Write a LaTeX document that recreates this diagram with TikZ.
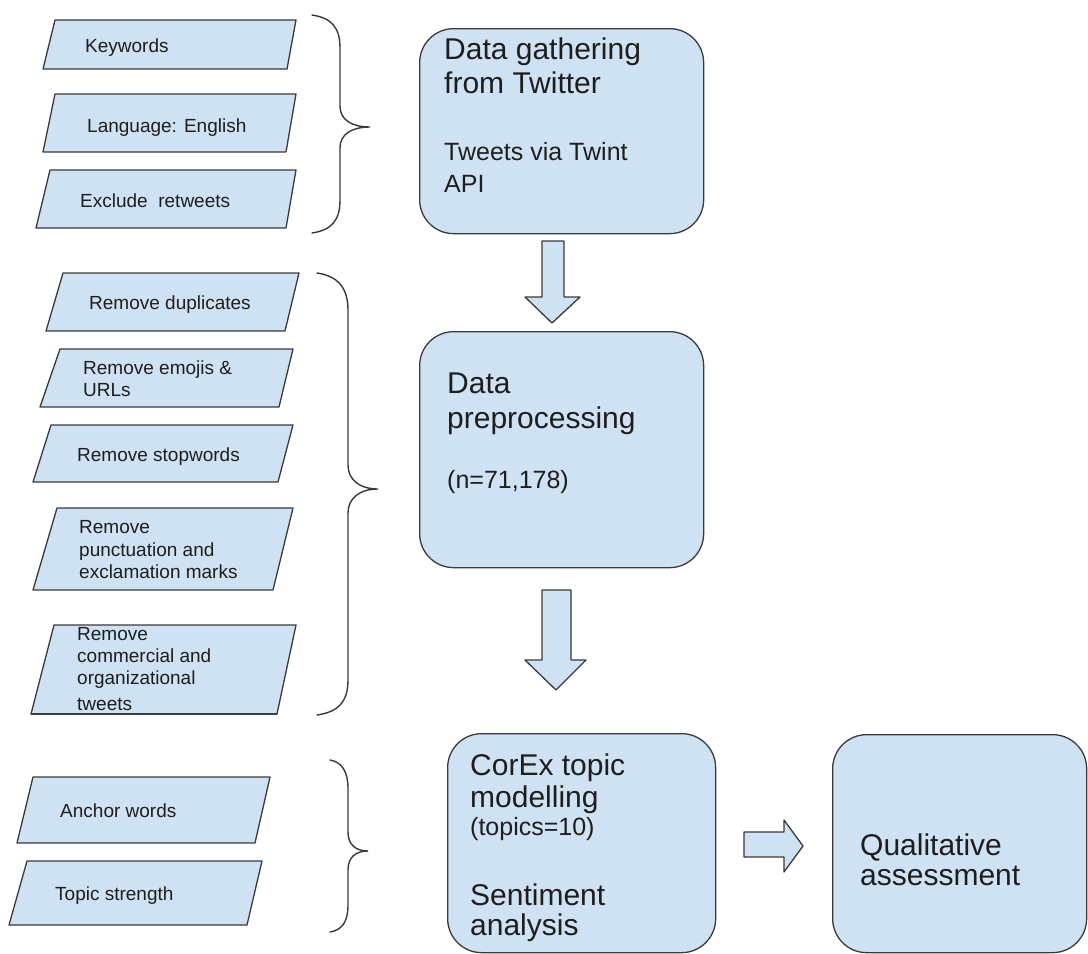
\documentclass[tikz,border=0pt]{standalone}
\usepackage{fontspec}
\setmainfont{Liberation Sans}
\definecolor{boxfill}{HTML}{CFE2F3}
\definecolor{boxline}{HTML}{3A3A3A}
\definecolor{txt}{HTML}{1E1E1E}
\tikzset{
  shapeline/.style={draw=boxline, fill=boxfill, line width=1.3pt, line join=round},
  braceline/.style={draw=boxline, line width=1.4pt, line cap=round},
  small/.style={anchor=base west, inner sep=0pt, text=txt, font=\fontsize{19}{22}\selectfont},
  big/.style={anchor=base west, inner sep=0pt, text=txt, font=\fontsize{30}{34}\selectfont},
  mid/.style={anchor=base west, inner sep=0pt, text=txt, font=\fontsize{25}{30}\selectfont},
  rbox/.style={shapeline, rounded corners=34pt}
}
\begin{document}
\begin{tikzpicture}[x=1pt,y=-1pt]
\useasboundingbox (0,0) rectangle (1088,954);
\fill[white] (0,0) rectangle (1088,954);

% parallelograms
\path[shapeline] (55,20) -- (296,20) -- (287,69) -- (43,69) -- cycle;
\path[shapeline] (55,94) -- (296,94) -- (286,152) -- (43,152) -- cycle;
\path[shapeline] (50,170) -- (296,170) -- (286,228) -- (36,228) -- cycle;
\path[shapeline] (63,273) -- (299,273) -- (285,331) -- (46,331) -- cycle;
\path[shapeline] (60,349) -- (293,349) -- (279,407) -- (40,407) -- cycle;
\path[shapeline] (51,425) -- (293,425) -- (278,482) -- (33,482) -- cycle;
\path[shapeline] (57,508) -- (293,508) -- (273,590) -- (33,590) -- cycle;
\path[shapeline] (54,625) -- (296,625) -- (277,714) -- (31,714) -- cycle;
\path[shapeline] (33,777) -- (270,777) -- (255,843) -- (17,843) -- cycle;
\path[shapeline] (27,861) -- (262,861) -- (247,925) -- (9,925) -- cycle;

% parallelogram texts
\node[small] (k1) at (85,52) {Keywords};
\node[small] (k2) at (87,132) {Language: English};
\node[small] (k3) at (80,207) {Exclude\ \ retweets};
\node[small] (p1) at (89,309) {Remove duplicates};
\node[small] (p2a) at (83,374) {Remove emojis \&};
\node[small] (p2b) at (83,396) {URLs};
\node[small] (p3) at (77,461) {Remove stopwords};
\node[small] (p4a) at (79,533) {Remove};
\node[small] (p4b) at (79,556) {punctuation and};
\node[small] (p4c) at (79,578) {exclamation marks};
\node[small] (p5a) at (77,640) {Remove};
\node[small] (p5b) at (77,662) {commercial and};
\node[small] (p5c) at (77,684) {organizational};
\node[small] (p5d) at (77,710) {tweets};
\draw[draw=boxline, line width=1.3pt] (31,714) -- (277,714);
\node[small] (c1) at (60,817) {Anchor words};
\node[small] (c2) at (55,900) {Topic strength};

% braces
\draw[braceline] (312,15) .. controls (332,18) and (340,28) .. (340,48)
  -- (340,106) .. controls (340,120) and (352,127) .. (370,127)
  .. controls (352,127) and (340,134) .. (340,148)
  -- (340,200) .. controls (340,220) and (332,230) .. (312,233);
\draw[braceline] (317,273) .. controls (338,276) and (348,288) .. (348,310)
  -- (348,465) .. controls (348,480) and (360,489) .. (378,489)
  .. controls (360,489) and (348,498) .. (348,513)
  -- (348,680) .. controls (348,702) and (338,712) .. (317,715);
\draw[braceline] (330,760) .. controls (342,762) and (348,772) .. (348,788)
  -- (348,832) .. controls (348,845) and (356,851) .. (368,851)
  .. controls (356,851) and (348,857) .. (348,870)
  -- (348,905) .. controls (348,922) and (342,930) .. (330,932);

% rounded boxes
\node[rbox, minimum width=284pt, minimum height=205pt, anchor=north west] (b1) at (419,28) {};
\node[rbox, minimum width=284pt, minimum height=236pt, anchor=north west] (b2) at (419,331) {};
\node[rbox, minimum width=268pt, minimum height=219pt, anchor=north west] (b3) at (447,733) {};
\node[rbox, minimum width=254pt, minimum height=218pt, anchor=north west] (b4) at (832,734) {};

% box texts
\node[big] (t1a) at (444,59) {Data gathering};
\node[big] (t1b) at (444,93) {from Twitter};
\node[mid] (t1c) at (444,160) {Tweets via Twint};
\node[mid] (t1d) at (444,192) {API};
\node[big] (t2a) at (447,393) {Data};
\node[big] (t2b) at (447,428) {preprocessing};
\node[mid] (t2c) at (447,488) {(n=71,178)};
\node[big] (t3a) at (470,775) {CorEx topic};
\node[big] (t3b) at (470,807) {modelling};
\node[mid] (t3c) at (470,835) {(topics=10)};
\node[big] (t3d) at (470,905) {Sentiment};
\node[big] (t3e) at (470,935) {analysis};
\node[big] (t4a) at (860,855) {Qualitative};
\node[big] (t4b) at (860,885) {assessment};

% block arrows
\path[shapeline] (542,241) -- (564,241) -- (564,297) -- (580,297) -- (552,323)
  -- (525,297) -- (542,297) -- cycle;
\path[shapeline] (542,590) -- (571,590) -- (571,660) -- (586,660) -- (556,690)
  -- (525,660) -- (542,660) -- cycle;
\path[shapeline] (744,832) -- (784,832) -- (784,820) -- (803,846) -- (784,872)
  -- (784,857) -- (744,857) -- cycle;
\end{tikzpicture}
\end{document}
